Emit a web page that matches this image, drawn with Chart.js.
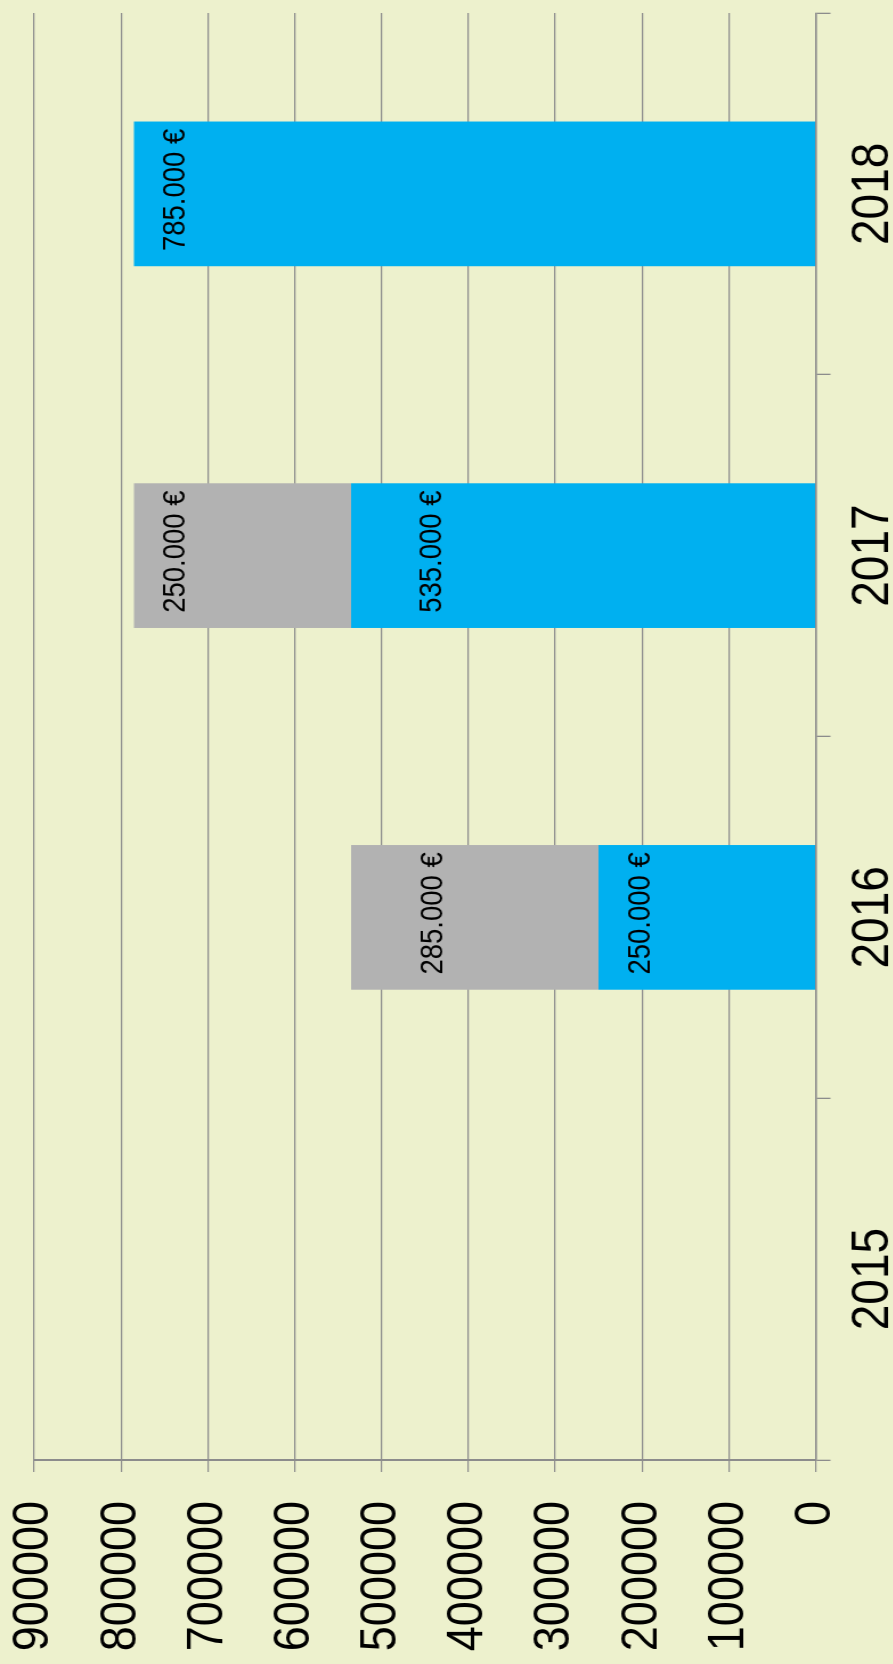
<!DOCTYPE html>
<html>
<head>
<meta charset="utf-8">
<script src="https://cdn.jsdelivr.net/npm/chart.js@4.4.1/dist/chart.umd.min.js"></script>
<style>
    html, body { margin: 0; padding: 0; background: #edf1cd; overflow: hidden; }
    body { width: 893px; height: 1664px; position: relative; }
    /* chart is drawn as a normal column chart, then turned 90deg to the left
       and stretched a little horizontally, like the original picture */
    #wrap {
        position: absolute; left: 0; top: 0;
        width: 1664px; height: 800px;
        transform-origin: 0 0;
        transform: matrix(0, -1, 1.14, 0, 0, 1664);
    }
</style>
</head>
<body>
<div id="wrap"><canvas id="chart" width="1664" height="800"></canvas></div>
<script>
// Data
const years = ['2015', '2016', '2017', '2018'];
const blueValues = [null, 250000, 535000, 785000];
const grayValues = [null, 285000, 250000, null];
const axisMin = 0;
const axisMax = 900000;
const axisStep = 100000;

const gridColor = '#8c8c8c';

// 250000 -> "250.000 €"
function euro(v) {
    return String(v).replace(/\B(?=(\d{3})+(?!\d))/g, '.') + ' €';
}

// simple value labels inside the bars (no datalabels plugin offline)
const barLabels = {
    id: 'barLabels',
    afterDatasetsDraw(chart, args, opts) {
        const ctx = chart.ctx;
        ctx.save();
        ctx.font = opts.font;
        ctx.fillStyle = '#000';
        ctx.textAlign = 'center';
        ctx.textBaseline = 'middle';
        chart.data.datasets.forEach((ds, di) => {
            const meta = chart.getDatasetMeta(di);
            meta.data.forEach((bar, i) => {
                if (ds.data[i] == null) return;
                ctx.fillText(euro(ds.data[i]), bar.x + 4, bar.y + opts.insets[di][i]);
            });
        });
        ctx.restore();
    }
};

Chart.defaults.font.family = "'Liberation Sans', Arial, sans-serif";
Chart.defaults.color = '#000';

new Chart(document.getElementById('chart'), {
    type: 'bar',
    data: {
        labels: years,
        datasets: [{
            data: blueValues,
            backgroundColor: '#00b0f0',
            borderWidth: 0,
            categoryPercentage: 1,
            barPercentage: 0.4
        }, {
            data: grayValues,
            backgroundColor: '#b2b2b2',
            borderWidth: 0,
            categoryPercentage: 1,
            barPercentage: 0.4
        }]
    },
    options: {
        responsive: false,
        animation: false,
        layout: { padding: { top: 30, right: 13, left: 0, bottom: 0 } },
        plugins: {
            legend: { display: false },
            tooltip: { enabled: false },
            barLabels: {
                font: "27.5px 'Liberation Sans', Arial, sans-serif",
                insets: [[0, 37, 71, 37], [0, 72, 37, 0]]
            }
        },
        scales: {
            x: {
                stacked: true,
                afterFit: (scale) => {
                    scale.height = 84.5;
                    scale.paddingLeft = 0;
                    scale.paddingRight = 0;
                },
                grid: {
                    display: true,
                    drawOnChartArea: false,
                    drawTicks: true,
                    tickLength: 13,
                    color: gridColor,
                    lineWidth: 1.3
                },
                border: { display: true, color: gridColor, width: 1.5 },
                ticks: { font: { size: 46 }, padding: 10, maxRotation: 0 }
            },
            y: {
                stacked: true,
                min: axisMin,
                max: axisMax,
                afterFit: (scale) => {
                    scale.width = 204;
                    scale.paddingTop = 0;
                    scale.paddingBottom = 0;
                },
                grid: {
                    color: gridColor,
                    lineWidth: 1.2,
                    drawTicks: true,
                    tickLength: 12
                },
                border: { display: true, color: gridColor, width: 2 },
                ticks: {
                    stepSize: axisStep,
                    font: { size: 45 },
                    padding: 29,
                    callback: (v) => String(v)
                }
            }
        }
    },
    plugins: [barLabels]
});
</script>
</body>
</html>
